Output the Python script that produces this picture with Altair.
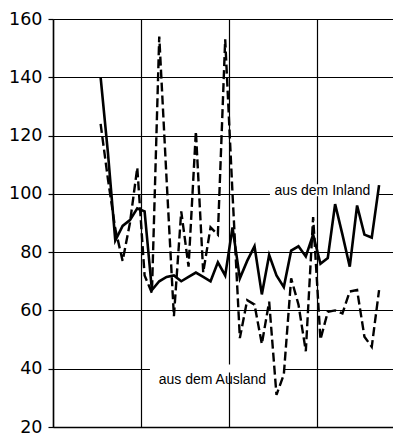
import altair as alt
import pandas as pd

# month index (0 = first month of the first year shown on the x axis)
months = list(range(6, 45))
inland = [140, 114, 84, 89, 91, 95, 94, 67, 70, 71.5, 72, 70, 71.5, 73, 71.5, 70,
          76.5, 72, 88.5, 71, 77, 82, 65.5, 79, 72, 68, 80.5, 82, 78.5, 86, 76, 78,
          96.5, 86, 75, 96, 86, 85, 103]
ausland = [124, 105, 88, 77, 90, 109, 72, 66, 154, 105, 58, 94, 75, 121.5, 73, 88.5,
           86, 153, 100, 50.5, 63.5, 62, 48.5, 63, 31, 38, 71, 62, 46, 92, 50, 59.5,
           60, 59, 66.5, 67, 51, 47.5, 67]
y_ticks = [20, 40, 60, 80, 100, 120, 140, 160]
year_breaks = [0, 12, 24, 36]
label_text = ["aus dem Inland", "aus dem Ausland"]
label_x = [36.77, 21.76]
label_y = [99.5, 34.9]

n = len(months)
df = pd.DataFrame({
    "m": [k + 0.5 for k in months] * 2,
    "v": inland + ausland,
    "serie": ["Inland"] * n + ["Ausland"] * n,
})
lab = pd.DataFrame({"m": label_x, "v": label_y, "t": label_text})

x_enc = alt.X("m:Q",
              scale=alt.Scale(domain=[0, 46.4], nice=False, zero=False),
              axis=alt.Axis(values=year_breaks, labels=False, ticks=False, title=None,
                            grid=True, gridColor="black", gridWidth=1.2, gridOpacity=1,
                            domainColor="black", domainWidth=1.5))
y_enc = alt.Y("v:Q",
              scale=alt.Scale(domain=[20, 160], nice=False, zero=False),
              axis=alt.Axis(values=y_ticks, title=None, tickSize=5, tickColor="black",
                            tickWidth=1.2, labelFont="DejaVu Sans", labelFontSize=17.5,
                            labelColor="black", labelPadding=6, domainColor="black",
                            domainWidth=1.5, grid=True, gridColor="black", gridWidth=1.2,
                            gridOpacity=1))

base = alt.Chart(df).encode(x=x_enc, y=y_enc)

line_in = base.transform_filter(alt.datum.serie == "Inland").mark_line(
    color="black", strokeWidth=2.6)
line_aus = base.transform_filter(alt.datum.serie == "Ausland").mark_line(
    color="black", strokeWidth=2.4, strokeDash=[9, 4])

lab_base = alt.Chart(lab).encode(x=alt.X("m:Q"), y=alt.Y("v:Q"))
rect_in = lab_base.transform_filter(alt.datum.t == "aus dem Inland").mark_rect(
    color="white", width=108, height=12, xOffset=1.5, yOffset=-5)
rect_aus = lab_base.transform_filter(alt.datum.t == "aus dem Ausland").mark_rect(
    color="white", width=133, height=8, xOffset=4, yOffset=-15)
texts = lab_base.mark_text(font="Liberation Sans", fontSize=14, color="black",
                           align="center", baseline="alphabetic").encode(text="t:N")

chart = alt.layer(rect_in, rect_aus, line_aus, line_in, texts).properties(
    width=340, height=408,
    autosize=alt.AutoSizeParams(type="none"),
    padding={"left": 45, "top": 11, "right": 0, "bottom": 9},
    background="white",
).configure_view(stroke=None)

chart.save("out.html", embed_options={"renderer": "svg", "actions": False})
